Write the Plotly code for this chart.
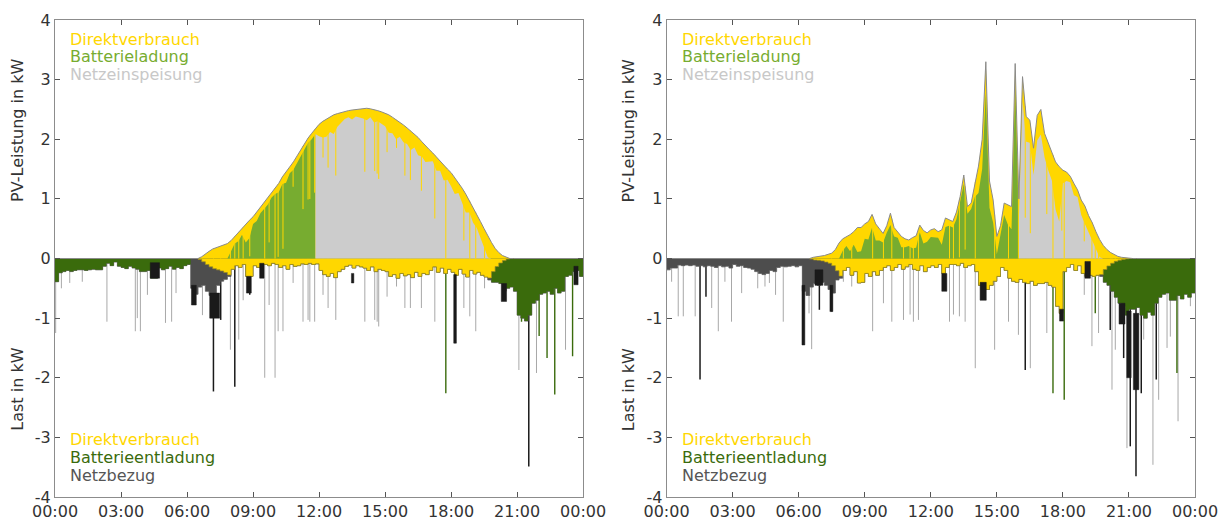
import numpy as np
import plotly.graph_objects as go

# ---------------------------------------------------------------------------
# Time base: 10-minute steps, hours since midnight (00:00 ... 24:00)
# ---------------------------------------------------------------------------
STEP_H = 1 / 6
TIME_H = np.arange(145) * STEP_H

X_TICKS = [0, 3, 6, 9, 12, 15, 18, 21, 24]
X_TICK_TEXT = ["00:00", "03:00", "06:00", "09:00", "12:00", "15:00", "18:00", "21:00", "00:00"]
Y_TICKS = [-4, -3, -2, -1, 0, 1, 2, 3, 4]
Y_TICK_TEXT = ["-4", "-3", "-2", "-1", "0", "1", "2", "3", "4"]

# ---------------------------------------------------------------------------
# Day 1 (left): clear day
# PV output in kW at every 10-minute mark (145 values)
# ---------------------------------------------------------------------------
pv_day1 = [
    0, 0, 0, 0, 0, 0,                       # 00
    0, 0, 0, 0, 0, 0,                       # 01
    0, 0, 0, 0, 0, 0,                       # 02
    0, 0, 0, 0, 0, 0,                       # 03
    0, 0, 0, 0, 0, 0,                       # 04
    0, 0, 0, 0, 0, 0,                       # 05
    0, 0, 0, 0.0, 0.03, 0.08,               # 06
    0.12, 0.16, 0.18, 0.20, 0.22, 0.25,     # 07
    0.30, 0.37, 0.44, 0.50, 0.57, 0.64,     # 08
    0.70, 0.78, 0.86, 0.93, 1.02, 1.10,     # 09
    1.18, 1.26, 1.37, 1.45, 1.53, 1.62,     # 10
    1.72, 1.82, 1.93, 2.02, 2.10, 2.18,     # 11
    2.25, 2.30, 2.34, 2.37, 2.41, 2.43,     # 12
    2.45, 2.47, 2.48, 2.49, 2.50, 2.51,     # 13
    2.51, 2.52, 2.51, 2.50, 2.48, 2.46,     # 14
    2.44, 2.41, 2.37, 2.33, 2.29, 2.24,     # 15
    2.19, 2.14, 2.09, 2.03, 1.96, 1.89,     # 16
    1.83, 1.77, 1.70, 1.63, 1.56, 1.50,     # 17
    1.44, 1.36, 1.28, 1.18, 1.08, 0.97,     # 18
    0.86, 0.74, 0.62, 0.50, 0.38, 0.27,     # 19
    0.17, 0.10, 0.05, 0.02, 0.0, 0.0,       # 20
    0, 0, 0, 0, 0, 0,                       # 21
    0, 0, 0, 0, 0, 0,                       # 22
    0, 0, 0, 0, 0, 0,                       # 23
    0,                                      # 24
]

# Household load in kW, mean per 10-minute interval (144 values)
load_day1 = [
    0.39, 0.24, 0.22, 0.20, 0.22, 0.20,     # 00
    0.19, 0.19, 0.20, 0.19, 0.18, 0.19,     # 01
    0.19, 0.13, 0.08, 0.12, 0.06, 0.13,     # 02
    0.15, 0.17, 0.13, 0.16, 0.18, 0.22,     # 03
    0.22, 0.20, 0.33, 0.33, 0.16, 0.19,     # 04
    0.17, 0.13, 0.18, 0.15, 0.17, 0.12,     # 05
    0.10, 0.50, 0.60, 0.48, 0.45, 0.55,     # 06
    0.62, 0.65, 0.45, 0.38, 0.35, 0.30,     # 07
    0.18, 0.12, 0.15, 0.10, 0.30, 0.30,     # 08
    0.12, 0.15, 0.10, 0.10, 0.12, 0.08,     # 09
    0.10, 0.15, 0.12, 0.18, 0.10, 0.13,     # 10
    0.12, 0.09, 0.10, 0.08, 0.10, 0.09,     # 11
    0.20, 0.27, 0.30, 0.25, 0.32, 0.22,     # 12
    0.18, 0.13, 0.11, 0.16, 0.12, 0.14,     # 13
    0.16, 0.20, 0.14, 0.22, 0.18, 0.20,     # 14
    0.22, 0.30, 0.27, 0.33, 0.25, 0.29,     # 15
    0.27, 0.32, 0.23, 0.30, 0.25, 0.27,     # 16
    0.20, 0.14, 0.23, 0.16, 0.25, 0.18,     # 17
    0.23, 0.28, 0.18, 0.26, 0.31, 0.20,     # 18
    0.26, 0.23, 0.28, 0.31, 0.36, 0.40,     # 19
    0.40, 0.42, 0.55, 0.50, 0.48, 0.55,     # 20
    0.95, 1.00, 1.05, 0.95, 0.75, 0.70,     # 21
    0.60, 0.58, 0.55, 0.60, 0.50, 0.58,     # 22
    0.55, 0.30, 0.28, 0.22, 0.20, 0.30,     # 23
]

# Battery state: charging ends when the battery is full, discharging windows
charge_until_day1 = 11 + 50 / 60
discharge_windows_day1 = [(0.0, 6 + 10 / 60), (19 + 50 / 60, 24.0)]

# Short load peaks (time in h, peak load in kW)
peak_t_grey_day1 = [0.03, 0.29, 0.67, 1.24, 2.36, 3.65, 3.74, 3.88, 4.20, 5.02, 5.30, 5.50,
                    6.70, 7.97, 8.35, 8.55, 9.53, 9.73, 10.00, 10.14, 10.36, 10.82, 11.27,
                    11.50, 11.58, 11.80, 12.18, 12.41, 12.76, 14.08, 14.53, 14.64, 14.71,
                    15.09, 15.52, 15.90, 16.15, 16.65, 17.26, 18.58, 18.85, 19.12, 19.52,
                    19.73, 21.08, 21.88, 23.20]
peak_kw_grey_day1 = [1.25, 0.50, 0.41, 0.39, 1.06, 1.22, 1.00, 1.22, 0.61, 1.08, 1.06, 0.58,
                     0.95, 1.53, 1.36, 0.70, 2.00, 0.78, 2.00, 1.22, 1.22, 0.41, 1.06,
                     1.03, 1.06, 1.06, 0.61, 0.83, 1.03, 1.06, 1.03, 1.06, 1.14,
                     0.64, 0.47, 0.83, 0.83, 0.83, 1.06, 0.83, 0.97, 1.22, 0.50,
                     0.36, 1.87, 1.92, 1.53]
peak_t_dark_day1 = [7.20, 7.53, 8.17, 8.85, 21.53]
peak_kw_dark_day1 = [2.23, 1.03, 2.15, 0.61, 3.49]
peak_t_batt_day1 = [17.76, 21.20, 22.00, 22.36, 22.71, 23.52]
peak_kw_batt_day1 = [2.26, 1.06, 1.30, 1.67, 2.28, 1.64]

# Rapidly fluctuating load periods (start h, end h, upper kW, lower kW)
burst_start_day1 = [4.33, 6.20, 7.03, 8.70, 9.30, 13.47, 18.12, 20.28, 23.58]
burst_end_day1 = [4.75, 6.42, 7.48, 8.92, 9.50, 13.58, 18.24, 20.52, 23.77]
burst_top_day1 = [0.07, 0.45, 0.58, 0.30, 0.08, 0.25, 0.27, 0.42, 0.13]
burst_low_day1 = [0.33, 0.78, 1.00, 0.58, 0.33, 0.41, 1.42, 0.72, 0.44]

# ---------------------------------------------------------------------------
# Day 2 (right): variable cloud cover
# ---------------------------------------------------------------------------
pv_day2 = [
    0, 0, 0, 0, 0, 0,                       # 00
    0, 0, 0, 0, 0, 0,                       # 01
    0, 0, 0, 0, 0, 0,                       # 02
    0, 0, 0, 0, 0, 0,                       # 03
    0, 0, 0, 0, 0, 0,                       # 04
    0, 0, 0, 0, 0, 0,                       # 05
    0, 0, 0, 0.0, 0.02, 0.03,               # 06
    0.03, 0.05, 0.07, 0.09, 0.15, 0.26,     # 07
    0.33, 0.36, 0.40, 0.45, 0.52, 0.52,     # 08
    0.58, 0.62, 0.74, 0.58, 0.50, 0.42,     # 09
    0.55, 0.76, 0.52, 0.45, 0.37, 0.33,     # 10
    0.31, 0.35, 0.38, 0.56, 0.47, 0.43,     # 11
    0.48, 0.50, 0.45, 0.48, 0.68, 0.65,     # 12
    0.62, 0.78, 1.04, 1.40, 0.87, 0.93,     # 13
    1.25, 1.55, 2.00, 3.30, 1.30, 0.98,     # 14
    0.37, 0.55, 0.93, 0.90, 0.87, 3.27,     # 15
    1.00, 3.05, 2.38, 2.32, 1.85, 2.40,     # 16
    2.50, 2.10, 1.93, 1.79, 1.62, 1.54,     # 17
    1.48, 1.45, 1.38, 1.26, 1.15, 0.98,     # 18
    0.88, 0.72, 0.60, 0.45, 0.32, 0.22,     # 19
    0.15, 0.10, 0.06, 0.035, 0.02, 0.01,    # 20
    0, 0, 0, 0, 0, 0,                       # 21
    0, 0, 0, 0, 0, 0,                       # 22
    0, 0, 0, 0, 0, 0,                       # 23
    0,                                      # 24
]

load_day2 = [
    0.19, 0.16, 0.16, 0.11, 0.12, 0.11,     # 00
    0.12, 0.11, 0.13, 0.12, 0.14, 0.12,     # 01
    0.13, 0.15, 0.12, 0.14, 0.13, 0.16,     # 02
    0.10, 0.13, 0.12, 0.15, 0.16, 0.18,     # 03
    0.22, 0.25, 0.27, 0.25, 0.20, 0.22,     # 04
    0.15, 0.13, 0.14, 0.13, 0.12, 0.14,     # 05
    0.12, 0.55, 0.62, 0.48, 0.42, 0.45,     # 06
    0.40, 0.45, 0.52, 0.58, 0.36, 0.33,     # 07
    0.20, 0.15, 0.28, 0.22, 0.41, 0.40,     # 08
    0.25, 0.30, 0.22, 0.28, 0.20, 0.15,     # 09
    0.12, 0.20, 0.15, 0.10, 0.18, 0.14,     # 10
    0.10, 0.18, 0.20, 0.12, 0.22, 0.15,     # 11
    0.12, 0.15, 0.10, 0.25, 0.15, 0.10,     # 12
    0.10, 0.12, 0.08, 0.15, 0.12, 0.10,     # 13
    0.22, 0.45, 0.50, 0.52, 0.45, 0.38,     # 14
    0.30, 0.15, 0.20, 0.33, 0.38, 0.40,     # 15
    0.35, 0.40, 0.42, 0.38, 0.45, 0.42,     # 16
    0.42, 0.40, 0.45, 0.48, 0.80, 0.92,     # 17
    0.22, 0.15, 0.10, 0.20, 0.12, 0.25,     # 18
    0.30, 0.28, 0.30, 0.28, 0.30, 0.40,     # 19
    0.45, 0.55, 0.65, 0.75, 0.80, 0.95,     # 20
    0.85, 0.85, 0.82, 0.95, 1.00, 0.90,     # 21
    0.95, 0.75, 0.65, 0.60, 0.58, 0.70,     # 22
    0.70, 0.62, 0.68, 0.60, 0.65, 0.58,     # 23
]

charge_until_day2 = 16.0
discharge_windows_day2 = [(19 + 50 / 60, 24.0)]

peak_t_grey_day2 = [0.23, 0.53, 0.76, 1.30, 2.05, 2.35, 2.65, 2.95, 3.41, 4.14, 4.47, 4.67,
                    4.95, 5.30, 6.47, 6.59, 8.03, 8.41, 9.36, 9.85, 10.23, 10.76, 11.06,
                    11.21, 11.44, 12.85, 13.03, 13.30, 13.56, 14.02, 14.90, 15.53, 15.98,
                    16.52, 17.27, 18.97, 19.32, 19.62, 20.23, 20.38, 20.91, 21.67, 22.09,
                    22.35, 22.73, 22.88, 23.23, 23.79]
peak_kw_grey_day2 = [0.39, 0.97, 0.97, 0.97, 0.83, 1.22, 0.39, 1.06, 0.58, 0.50, 0.47, 0.41,
                     0.61, 1.06, 0.92, 1.52, 0.39, 0.47, 1.22, 0.75, 1.06, 1.03, 0.94,
                     1.06, 1.03, 1.06, 0.94, 0.97, 1.06, 1.84, 1.53, 1.06, 1.28,
                     1.84, 1.25, 0.61, 1.47, 1.25, 2.20, 1.53, 3.18, 1.36, 3.46,
                     2.37, 1.50, 1.31, 2.73, 0.80]
peak_t_dark_day2 = [1.52, 1.79, 6.21, 6.94, 7.50, 16.29, 17.95, 20.15, 20.76, 21.06, 21.32,
                    21.56, 22.24]
peak_kw_dark_day2 = [2.03, 0.64, 1.45, 0.86, 0.89, 1.87, 1.03, 1.20, 1.67, 3.15, 3.65,
                     2.26, 2.03]
peak_t_batt_day2 = [17.55, 18.06, 19.47, 23.18]
peak_kw_batt_day2 = [2.26, 2.37, 0.92, 1.92]

burst_start_day2 = [6.15, 6.74, 7.42, 12.50, 14.24, 17.85, 19.00, 20.55, 20.90, 21.20]
burst_end_day2 = [6.28, 7.10, 7.55, 12.73, 14.52, 18.03, 19.25, 20.82, 21.10, 21.45]
burst_top_day2 = [0.45, 0.19, 0.45, 0.25, 0.40, 0.85, 0.05, 0.75, 0.88, 0.92]
burst_low_day2 = [1.45, 0.45, 0.89, 0.55, 0.70, 1.05, 0.33, 1.10, 2.00, 2.20]

# ---------------------------------------------------------------------------
# Styling
# ---------------------------------------------------------------------------
YELLOW = "#FFD700"
GREEN = "#77AC30"
FEED = "#CCCCCC"
DARK_GREEN = "#3A6B0C"
GRID_GREY = "#4D4D4D"
BLACK = "#1A1A1A"
PEAK_GREY = "#A8A8A8"
FONT = "DejaVu Sans"
TEXT = "#333333"


def add_day(fig, xa, ya, pv, load, charge_until, discharge_windows,
            grey_t, grey_kw, dark_t, dark_kw, batt_t, batt_kw,
            b_start, b_end, b_top, b_low):
    pv = np.asarray(pv, float)
    load = np.asarray(load, float)
    start = TIME_H[:-1]

    # --- load side (negative axis), interval means drawn as steps
    pv_mid = 0.5 * (pv[:-1] + pv[1:])
    direct_int = np.minimum(pv_mid, load)
    in_dis = np.zeros(len(load), bool)
    for a, b in discharge_windows:
        in_dis |= (start >= a - 1e-9) & (start < b - 1e-9)
    discharge = np.where(in_dis, load - direct_int, 0.0)

    xs = np.append(start, 24.0)

    def step(v):
        return np.append(v, v[-1])

    common = dict(xaxis=xa, yaxis=ya, showlegend=False, hoverinfo="skip")

    # load peaks sit underneath the filled areas
    for ts, ks, col, w in ((grey_t, grey_kw, PEAK_GREY, 1.0),
                           (batt_t, batt_kw, DARK_GREEN, 1.4),
                           (dark_t, dark_kw, BLACK, 1.5)):
        px, py = [], []
        for t, k in zip(ts, ks):
            px += [t, t, None]
            py += [0, -k, None]
        fig.add_trace(go.Scatter(x=px, y=py, mode="lines",
                                 line=dict(color=col, width=w), **common))

    fig.add_trace(go.Scatter(x=xs, y=-step(load), mode="lines", fill="tozeroy",
                             fillcolor=GRID_GREY, line=dict(color="#5a5a5a", width=0.8, shape="hv"),
                             **common))
    fig.add_trace(go.Scatter(x=xs, y=-step(direct_int + discharge), mode="lines", fill="tozeroy",
                             fillcolor=DARK_GREEN, line=dict(width=0, shape="hv"), **common))
    fig.add_trace(go.Scatter(x=xs, y=-step(direct_int), mode="lines", fill="tozeroy",
                             fillcolor=YELLOW, line=dict(color="#9c8a2a", width=0.7, shape="hv"),
                             **common))

    # fluctuating-load periods
    bx, by = [], []
    for a, b, u, l in zip(b_start, b_end, b_top, b_low):
        bx += [a, b, b, a, a, None]
        by += [-u, -u, -l, -l, -u, None]
    fig.add_trace(go.Scatter(x=bx, y=by, mode="lines", fill="toself", fillcolor=BLACK,
                             line=dict(color=BLACK, width=0.5), **common))

    # --- PV side (positive axis)
    load_pt = np.append(load, load[-1])
    direct_pt = np.minimum(pv, load_pt)
    surplus = pv - direct_pt

    fig.add_trace(go.Scatter(x=TIME_H, y=pv, mode="lines", fill="tozeroy", fillcolor=YELLOW,
                             line=dict(width=0), **common))
    m_c = TIME_H <= charge_until + 1e-9
    m_f = TIME_H >= charge_until - 1e-9
    fig.add_trace(go.Scatter(x=TIME_H[m_c], y=surplus[m_c], mode="lines", fill="tozeroy",
                             fillcolor=GREEN, line=dict(width=0), **common))
    fig.add_trace(go.Scatter(x=TIME_H[m_f], y=surplus[m_f], mode="lines", fill="tozeroy",
                             fillcolor=FEED, line=dict(width=0), **common))

    # load peaks during daylight raise direct consumption briefly
    lx, ly = [], []
    for t, k in zip(list(grey_t) + list(dark_t) + list(batt_t),
                    list(grey_kw) + list(dark_kw) + list(batt_kw)):
        p = float(np.interp(t, TIME_H, pv))
        if p > 0.05:
            lx += [t, t, None]
            ly += [p, p - min(p, k), None]
    fig.add_trace(go.Scatter(x=lx, y=ly, mode="lines", line=dict(color=YELLOW, width=1),
                             **common))

    fig.add_trace(go.Scatter(x=TIME_H, y=pv, mode="lines",
                             line=dict(color="#8a8a8a", width=1), **common))


fig = go.Figure()
add_day(fig, "x", "y", pv_day1, load_day1, charge_until_day1, discharge_windows_day1,
        peak_t_grey_day1, peak_kw_grey_day1, peak_t_dark_day1, peak_kw_dark_day1,
        peak_t_batt_day1, peak_kw_batt_day1,
        burst_start_day1, burst_end_day1, burst_top_day1, burst_low_day1)
add_day(fig, "x2", "y2", pv_day2, load_day2, charge_until_day2, discharge_windows_day2,
        peak_t_grey_day2, peak_kw_grey_day2, peak_t_dark_day2, peak_kw_dark_day2,
        peak_t_batt_day2, peak_kw_batt_day2,
        burst_start_day2, burst_end_day2, burst_top_day2, burst_low_day2)

axis_common = dict(showgrid=False, showline=True, mirror="ticks", linecolor="#8c8c8c",
                   linewidth=1, ticks="inside", ticklen=5, tickcolor="#555555",
                   tickfont=dict(family=FONT, size=16, color=TEXT), layer="above traces",
                   automargin=False)

x_left = (0.0, 528 / 1139.7)
x_right = (611.4 / 1139.7, 1.0)

fig.update_layout(
    width=1228, height=522,
    margin=dict(l=55, r=33, t=20, b=25),
    paper_bgcolor="white", plot_bgcolor="white",
    xaxis=dict(domain=x_left, range=[0, 24], tickvals=X_TICKS, ticktext=X_TICK_TEXT,
               zeroline=False, anchor="y", ticklabelstandoff=0, **axis_common),
    yaxis=dict(range=[-4, 4], tickvals=Y_TICKS, ticktext=Y_TICK_TEXT, zeroline=True,
               zerolinecolor="#5f5f5f", zerolinewidth=1, anchor="x", **axis_common),
    xaxis2=dict(domain=x_right, range=[0, 24], tickvals=X_TICKS, ticktext=X_TICK_TEXT,
                zeroline=False, anchor="y2", ticklabelstandoff=0, **axis_common),
    yaxis2=dict(range=[-4, 4], tickvals=Y_TICKS, ticktext=Y_TICK_TEXT, zeroline=True,
                zerolinecolor="#5f5f5f", zerolinewidth=1, anchor="x2", **axis_common),
)

annotations = []
legend_upper = [("Direktverbrauch", YELLOW, 3.68), ("Batterieladung", GREEN, 3.38),
                ("Netzeinspeisung", "#C8C8C8", 3.08)]
legend_lower = [("Direktverbrauch", YELLOW, -3.04), ("Batterieentladung", DARK_GREEN, -3.34),
                ("Netzbezug", "#555555", -3.64)]
for xa, ya, shift in (("x", "y", -37), ("x2", "y2", -38)):
    for text, col, yv in legend_upper + legend_lower:
        annotations.append(dict(text=text, xref=f"{xa} domain", x=0, xshift=13, xanchor="left",
                                yref=ya, y=yv, yanchor="middle", showarrow=False,
                                font=dict(family=FONT, size=16, color=col)))
    for text, yv in (("PV-Leistung in kW", 2.14), ("Last in kW", -2.2)):
        annotations.append(dict(text=text, xref=f"{xa} domain", x=0, xshift=shift,
                                xanchor="center", yref=ya, y=yv, yanchor="middle",
                                textangle=-90, showarrow=False,
                                font=dict(family=FONT, size=16, color=TEXT)))
fig.update_layout(annotations=annotations)

fig.write_html("out.html")
